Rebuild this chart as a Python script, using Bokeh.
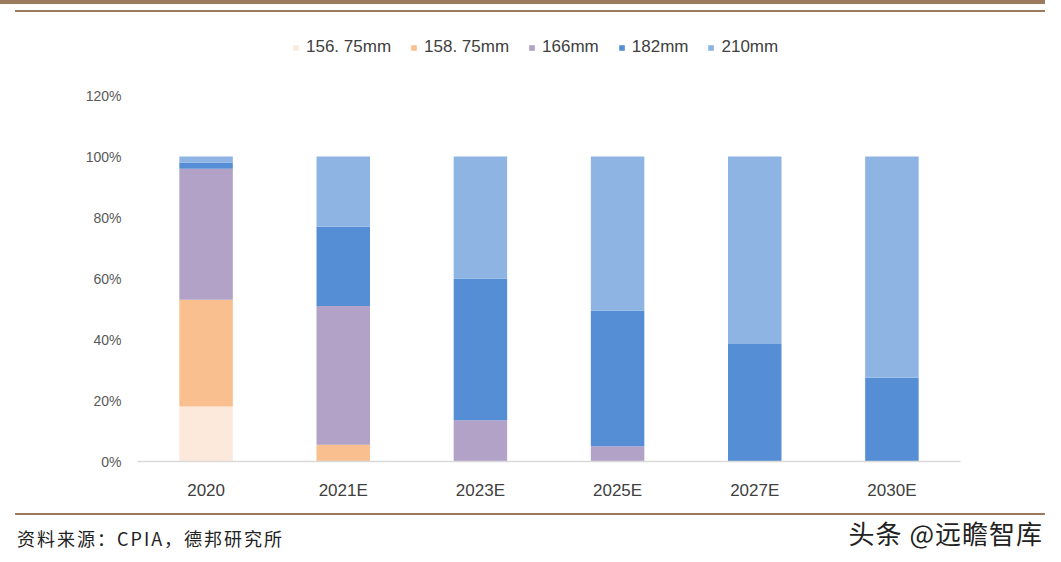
from bokeh.plotting import figure
from bokeh.models import (ColumnDataSource, Range1d, FixedTicker, NumeralTickFormatter,
                          FactorRange, Div)
from bokeh.layouts import column
from bokeh.embed import file_html
from bokeh.resources import INLINE

categories = ["2020", "2021E", "2023E", "2025E", "2027E", "2030E"]
s156 = [18, 0, 0, 0, 0, 0]
s158 = [35, 5.5, 0, 0, 0, 0]
s166 = [43, 45.5, 13.5, 5, 0, 0]
s182 = [2, 26, 46.5, 44.5, 38.5, 27.5]
s210 = [2, 23, 40, 50.5, 61.5, 72.5]
series_labels = ["156. 75mm", "158. 75mm", "166mm", "182mm", "210mm"]
colors = ["#fde9dc", "#f9bf8f", "#b2a2c7", "#558ed5", "#8eb4e3"]
y_ticks = [0, 0.2, 0.4, 0.6, 0.8, 1.0, 1.2]
source_text = "资料来源：CPIA，德邦研究所"
watermark = "头条 @远瞻智库"

W = 1045
TOP_H = 14
MAIN_H = 491
BOT_H = 50
BOT_Y = TOP_H + MAIN_H          # page y where the bottom block starts
FL, FR, FB = 137, 960, 461      # frame left/right/bottom in page pixels
Y120 = 95                       # page y of the 120% tick
FT = 30                         # frame top (extended so the legend sits inside it)
px_per_unit = (FB - Y120) / 1.2
BROWN = "#9c7a5e"
CJK = "Noto Sans CJK SC"
LAT = "Liberation Sans"

# ---------- top rules ----------
top = Div(width=W, height=TOP_H, margin=0, text=(
    f'<div style="position:relative;width:{W}px;height:{TOP_H}px;overflow:hidden">'
    f'<div style="position:absolute;left:0;top:0;width:{W}px;height:4px;background:{BROWN}"></div>'
    f'<div style="position:absolute;left:15px;top:10px;width:{W-15}px;height:2px;background:{BROWN}"></div>'
    '</div>'))

# ---------- main chart ----------
keys = ["s156", "s158", "s166", "s182", "s210"]
data = {"cat": categories}
for k, arr in zip(keys, [s156, s158, s166, s182, s210]):
    data[k] = [v / 100 for v in arr]
src = ColumnDataSource(data)

p = figure(width=W, height=MAIN_H, x_range=FactorRange(*categories, range_padding=0),
           y_range=Range1d(0, (FB - FT) / px_per_unit), toolbar_location=None,
           output_backend="svg", margin=0,
           min_border_left=FL, min_border_right=W - FR, min_border_top=FT - TOP_H,
           min_border_bottom=BOT_Y - FB)
p.outline_line_color = None
p.grid.visible = False

p.vbar_stack(keys, x="cat", width=0.39, source=src, fill_color=colors, line_color=None,
             legend_label=series_labels)

p.yaxis.ticker = FixedTicker(ticks=y_ticks)
p.yaxis.formatter = NumeralTickFormatter(format="0%")
p.yaxis.axis_line_color = None
p.yaxis.major_tick_line_color = None
p.yaxis.minor_tick_line_color = None
p.yaxis.major_label_text_font = LAT
p.yaxis.major_label_text_font_size = "14px"
p.yaxis.major_label_text_color = "#595959"
p.yaxis.major_label_standoff = 10

p.xaxis.axis_line_color = "#d9d9d9"
p.xaxis.axis_line_width = 1.5
p.xaxis.major_tick_line_color = None
p.xaxis.minor_tick_line_color = None
p.xaxis.major_label_text_font = LAT
p.xaxis.major_label_text_font_size = "17px"
p.xaxis.major_label_text_color = "#404040"
p.xaxis.major_label_standoff = 13

lg = p.legend[0]
lg.orientation = "horizontal"
lg.location = (155, FB - 57)
lg.padding = 0
lg.margin = 0
lg.border_line_color = None
lg.background_fill_alpha = 0
lg.glyph_width = 7
lg.glyph_height = 7
lg.label_standoff = 7
lg.spacing = 19
lg.label_text_font = LAT
lg.label_text_font_size = "17px"
lg.label_text_color = "#404040"

# ---------- bottom rule and texts ----------
bot = Div(width=W, height=BOT_H, margin=0, text=(
    f'<div style="position:relative;width:{W}px;height:{BOT_H}px;color:#222222">'
    f'<div style="position:absolute;left:15px;top:{513 - BOT_Y}px;width:{W-15}px;height:2px;background:{BROWN}"></div>'
    f'<div style="position:absolute;left:17px;top:{538 - BOT_Y - 13}px;height:26px;line-height:26px;'
    f'font-family:\'{CJK}\';font-size:18px;letter-spacing:2px;white-space:nowrap">{source_text}</div>'
    f'<div style="position:absolute;right:2px;top:{533 - BOT_Y - 19}px;height:38px;line-height:38px;'
    f'font-family:\'{CJK}\';font-size:26px;letter-spacing:1px;white-space:nowrap">{watermark}</div>'
    '</div>'))

layout = column(top, p, bot, spacing=0)
open("out.html", "w").write(file_html(layout, INLINE))
